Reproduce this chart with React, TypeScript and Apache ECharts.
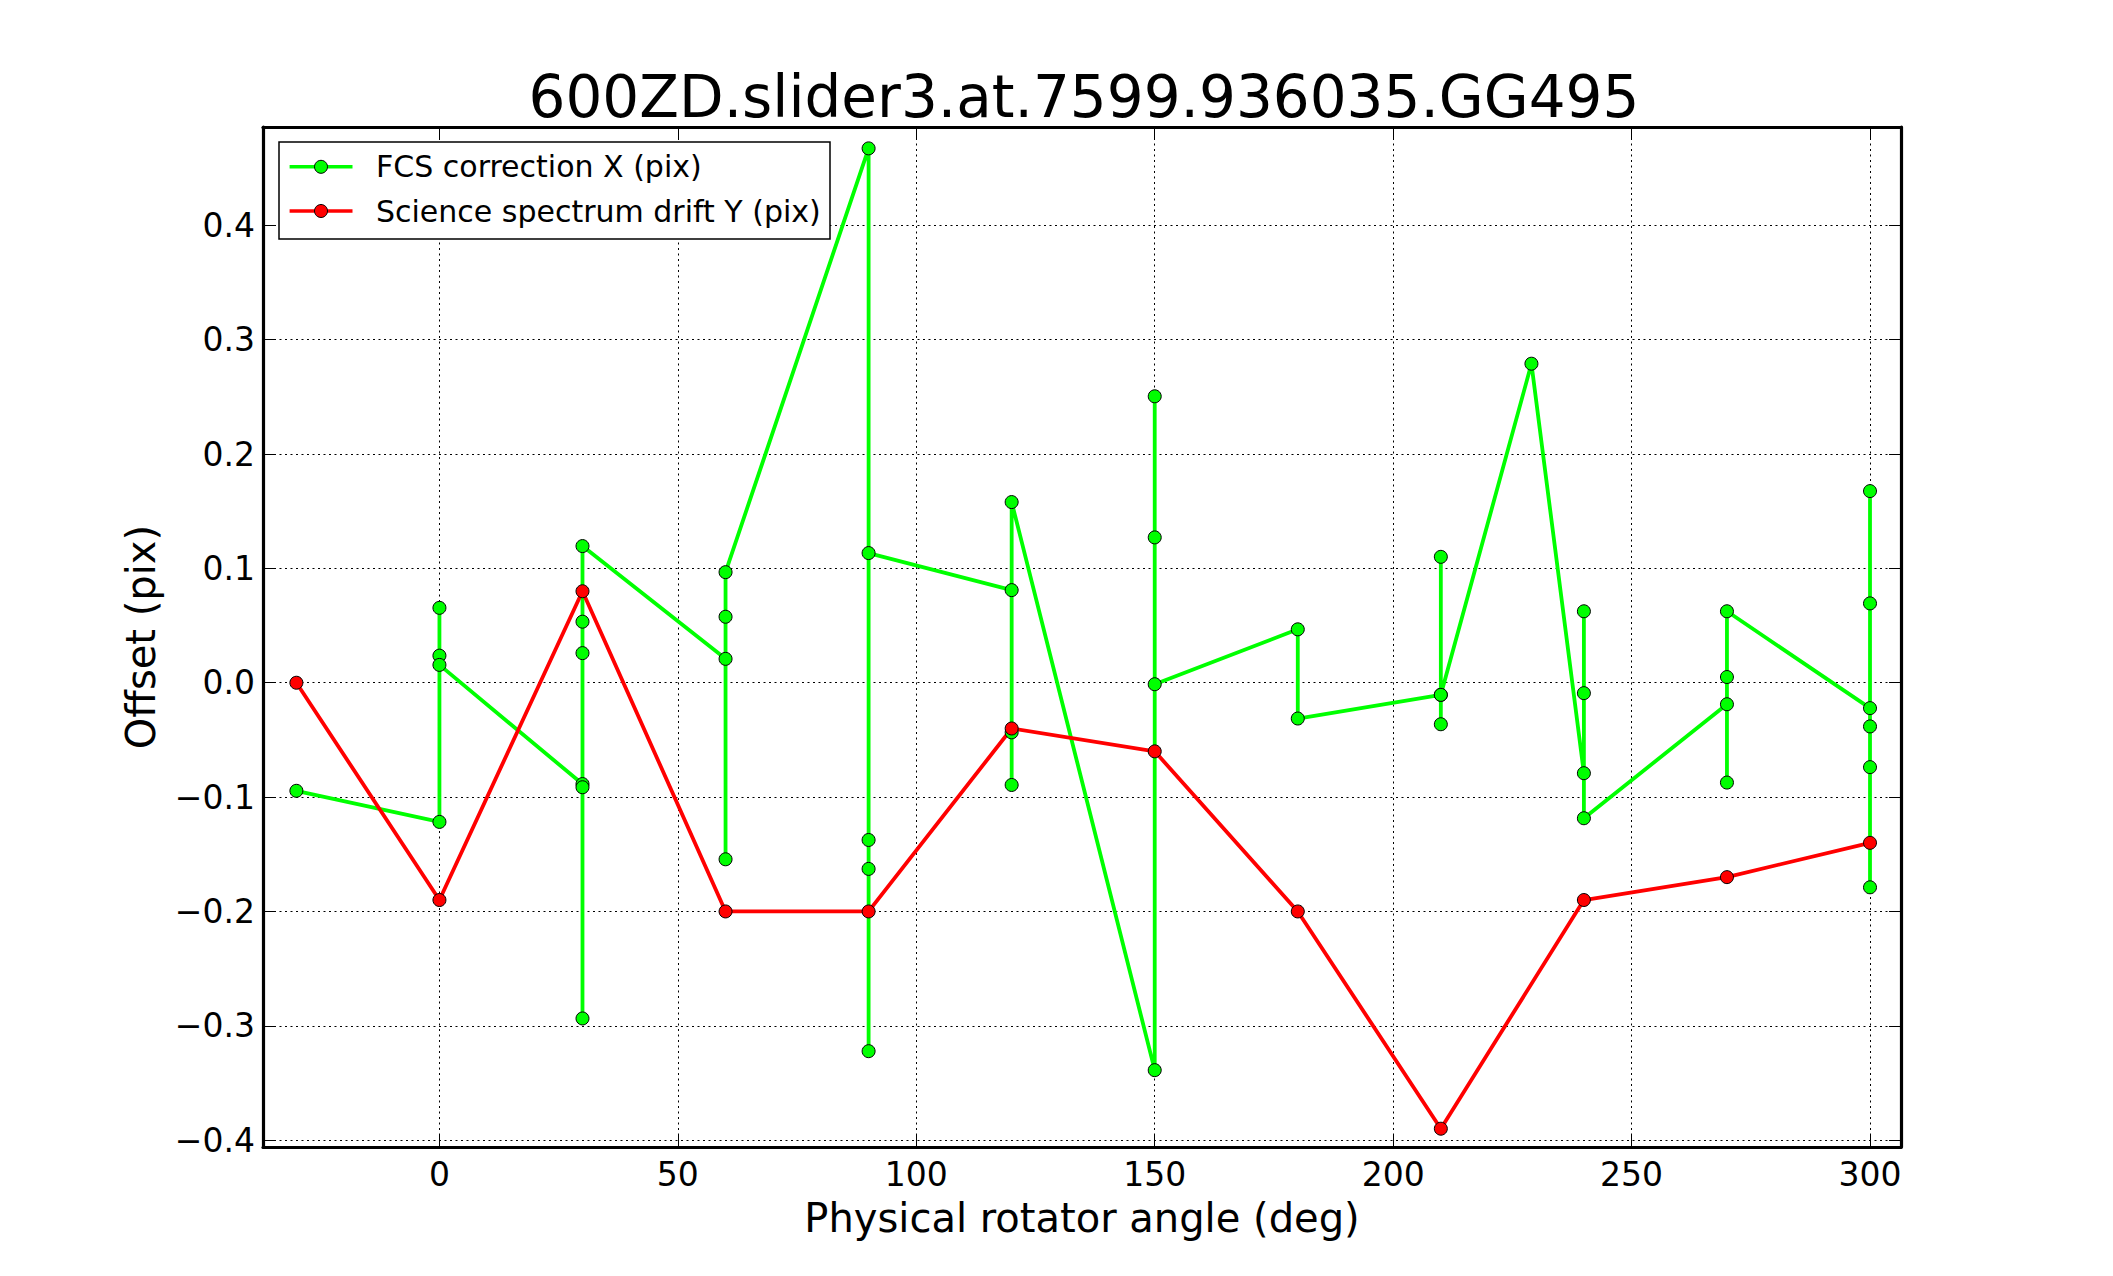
import React, { useEffect, useRef } from "react";
import * as echarts from "echarts";

const TITLE = "600ZD.slider3.at.7599.936035.GG495";
const X_LABEL = "Physical rotator angle (deg)";
const Y_LABEL = "Offset (pix)";
const LEGEND_NAMES = ["FCS correction X (pix)", "Science spectrum drift Y (pix)"];
const GREEN = "#00ff00";
const RED = "#ff0000";

// FCS correction X (pix): points in drawing order
const fcsX = [
  -30,
  0, 0, 0, 0,
  30, 30, 30, 30, 30, 30,
  60, 60, 60, 60,
  90, 90, 90, 90, 90,
  120, 120, 120, 120,
  150, 150, 150, 150,
  180, 180,
  210, 210, 210, 210,
  229,
  240, 240, 240, 240,
  270, 270, 270, 270,
  300, 300, 300, 300, 300, 300,
];
const fcsY = [
  -0.0945,
  -0.1217, 0.0655, 0.0237, 0.0156,
  -0.0886, -0.0914, -0.2936, 0.0259, 0.0534, 0.1195,
  0.0209, -0.1544, 0.0577, 0.0967,
  0.4673, -0.3222, -0.1628, -0.1375, 0.1134,
  0.081, -0.0894, -0.0434, 0.158,
  -0.3388, 0.2505, 0.1271, -0.0013,
  0.0467, -0.0313,
  -0.0106, 0.1101, -0.0363, -0.0106,
  0.279,
  -0.0791, 0.0625, -0.0091, -0.1185,
  -0.0188, -0.0873, 0.005, 0.0625,
  -0.0222, 0.0694, 0.1676, -0.0382, -0.0738, -0.1789,
];

// Science spectrum drift Y (pix)
const driftX = [-30, 0, 30, 60, 90, 120, 150, 180, 210, 240, 270, 300];
const driftY = [0.0, -0.19, 0.08, -0.2, -0.2, -0.04, -0.06, -0.2, -0.39, -0.19, -0.17, -0.14];

const X_MIN = -37;
const X_MAX = 306.5;
const Y_MIN = -0.406;
const Y_MAX = 0.486;

const FONT = "DejaVu Sans";

const fmtY = (v: number) => {
  const s = Math.abs(v).toFixed(1);
  return v < -1e-9 ? "\u2212" + s : s;
};
const fmtX = (v: number) => {
  const s = String(Math.round(Math.abs(v)));
  return v < -1e-9 ? "\u2212" + s : s;
};

const GL = 263, GT = 127, GR = 1901, GB = 1147;

export default function App() {
  const ref = useRef<HTMLDivElement>(null);
  useEffect(() => {
    if (!ref.current) return;
    const chart = echarts.init(ref.current, null, { renderer: "svg" });
    const tick = { show: true, inside: true, length: 12, lineStyle: { color: "#000", width: 1 } };
    const axisLine = { show: true, onZero: false, lineStyle: { color: "#000", width: 3.2 } };
    const grid = { show: true, lineStyle: { color: "#000", width: 1, type: [2, 3.5] } };
    const xBase = {
      type: "value", min: X_MIN, max: X_MAX, splitNumber: 7, minInterval: 50, maxInterval: 50,
      axisLine, axisTick: tick,
    };
    const yBase = {
      type: "value", min: Y_MIN, max: Y_MAX, splitNumber: 9, minInterval: 0.1, maxInterval: 0.1,
      axisLine, axisTick: tick,
    };
    const legendY = [166.8, 211];
    const colors = [GREEN, RED];
    const legendEls: any[] = [
      {
        type: "rect", z: 100,
        shape: { x: 279, y: 142, width: 551, height: 97 },
        style: { fill: "#fff", stroke: "#000", lineWidth: 1.5 },
      },
    ];
    legendY.forEach((ly, i) => {
      legendEls.push({
        type: "line", z: 101,
        shape: { x1: 289.6, y1: ly, x2: 352.5, y2: ly },
        style: { stroke: colors[i], lineWidth: 3.5 },
      });
      legendEls.push({
        type: "circle", z: 102,
        shape: { cx: 321, cy: ly, r: 6.5 },
        style: { fill: colors[i], stroke: "#000", lineWidth: 1 },
      });
      legendEls.push({
        type: "text", z: 102,
        style: {
          text: LEGEND_NAMES[i], x: 376, y: ly, fontSize: 30, fontFamily: FONT,
          fill: "#000", align: "left", verticalAlign: "middle",
        },
      });
    });
    const seriesCommon = {
      type: "line", xAxisIndex: 0, yAxisIndex: 0,
      symbol: "circle", symbolSize: 13, showSymbol: true,
      emphasis: { disabled: true }, silent: true,
    };
    chart.setOption({
      animation: false,
      backgroundColor: "#fff",
      grid: { left: GL, top: GT, right: 2113 - GR, bottom: 1276 - GB, containLabel: false },
      xAxis: [
        {
          ...xBase, position: "bottom",
          axisLabel: {
            show: true, margin: 11, fontSize: 33, fontFamily: FONT, color: "#000",
            showMinLabel: false, showMaxLabel: false, formatter: fmtX,
          },
          splitLine: grid,
        },
        {
          ...xBase, position: "top",
          axisLabel: { show: false }, splitLine: { show: false },
        },
      ],
      yAxis: [
        {
          ...yBase, position: "left",
          axisLabel: {
            show: true, margin: 8, fontSize: 33, fontFamily: FONT, color: "#000",
            showMinLabel: false, showMaxLabel: false, formatter: fmtY,
          },
          splitLine: grid,
        },
        {
          ...yBase, position: "right",
          axisLabel: { show: false }, splitLine: { show: false },
        },
      ],
      series: [
        {
          ...seriesCommon, name: LEGEND_NAMES[0],
          data: fcsX.map((x, i) => [x, fcsY[i]]),
          lineStyle: { color: GREEN, width: 3.8 },
          itemStyle: { color: GREEN, borderColor: "#000", borderWidth: 1 },
        },
        {
          ...seriesCommon, name: LEGEND_NAMES[1],
          data: driftX.map((x, i) => [x, driftY[i]]),
          lineStyle: { color: RED, width: 3.8 },
          itemStyle: { color: RED, borderColor: "#000", borderWidth: 1 },
        },
      ],
      graphic: [
        {
          type: "text",
          style: {
            text: TITLE, x: (GL + GR) / 2 + 2, y: 96.5, fontSize: 58, fontFamily: FONT,
            fill: "#000", align: "center", verticalAlign: "middle",
          },
        },
        {
          type: "text",
          style: {
            text: X_LABEL, x: (GL + GR) / 2, y: 1218, fontSize: 40, fontFamily: FONT,
            fill: "#000", align: "center", verticalAlign: "middle",
          },
        },
        {
          type: "text", x: 141, y: (GT + GB) / 2, rotation: Math.PI / 2,
          style: {
            text: Y_LABEL, x: 0, y: 0, fontSize: 40, fontFamily: FONT,
            fill: "#000", align: "center", verticalAlign: "middle",
          },
        },
        ...legendEls,
      ],
    });
    return () => chart.dispose();
  }, []);
  return (
    <div
      ref={ref}
      style={{ position: "absolute", left: 0, top: 0, width: 2113, height: 1276 }}
    />
  );
}
